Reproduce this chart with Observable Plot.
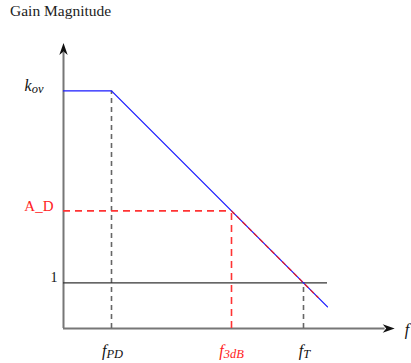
<!DOCTYPE html>
<html>
<head>
<meta charset="utf-8">
<script src="https://cdn.jsdelivr.net/npm/d3@7"></script>
<script src="https://cdn.jsdelivr.net/npm/@observablehq/plot@0.6"></script>
<style>
  html, body { margin: 0; padding: 0; background: #fff; overflow: hidden; }
  #wrap { position: relative; width: 411px; height: 363px; }
  #title { position: absolute; left: 10px; top: 2px; font-family: "Liberation Serif", "Times New Roman", serif; font-size: 15.5px; color: #222; white-space: nowrap; }
</style>
</head>
<body>
<div id="wrap"><div id="title">Gain Magnitude</div></div>
<script>
// Frequency axis (log units) and labels
const freqLabels = ["f|PD", "f|3dB", "f|T"];
const freqValues = [2, 7, 10];
// Gain axis (log units) and labels
const gainLabels = ["k|ov", "A_D", "1"];
const gainValues = [9.9, 4.9, 1.9];
// Bode magnitude asymptote
const respX = [0, 2, 11];
const respY = [9.9, 9.9, 0.9];
// Red slope segment between A_D and unity gain
const slopeX = [7, 10.6];
const slopeY = [4.9, 1.3];
// Axes extents
const xAxisEnd = 13.8;
const yAxisEnd = 11.9;
const axisLabelX = "f";

const [fPD, f3dB, fT] = freqValues;
const [kov, AD, one] = gainValues;

const arrowSymbol = {
  draw(ctx, size) {
    ctx.moveTo(0, 0);
    ctx.lineTo(4.2, 12);
    ctx.lineTo(0, 8.5);
    ctx.lineTo(-4.2, 12);
    ctx.closePath();
  }
};

const resp = respX.map((x, i) => ({x, y: respY[i]}));
const slope = slopeX.map((x, i) => ({x, y: slopeY[i]}));

const chart = Plot.plot({
  width: 411,
  height: 363,
  marginLeft: 63,
  marginRight: 12,
  marginTop: 40,
  marginBottom: 35,
  style: {fontFamily: "'Liberation Serif', 'Times New Roman', serif", background: "transparent", overflow: "hidden"},
  x: {domain: [0, 14], axis: null},
  y: {domain: [0, 12], axis: null},
  marks: [
    // axes
    Plot.ruleY([0], {x1: 0, x2: xAxisEnd - 0.4, stroke: "#777", strokeWidth: 2}),
    Plot.ruleX([0], {y1: 0, y2: yAxisEnd - 0.4, stroke: "#777", strokeWidth: 2}),
    Plot.dot([{x: xAxisEnd, y: 0}], {x: "x", y: "y", symbol: arrowSymbol, r: 5, fill: "#111", stroke: null, rotate: 90}),
    Plot.dot([{x: 0, y: yAxisEnd}], {x: "x", y: "y", symbol: arrowSymbol, r: 5, fill: "#111", stroke: null}),
    // guide lines
    Plot.ruleX([fPD], {y1: 0, y2: kov, stroke: "#666", strokeWidth: 1.6, strokeDasharray: "5,4"}),
    Plot.ruleX([fT], {y1: 0, y2: one, stroke: "#666", strokeWidth: 1.6, strokeDasharray: "5,4"}),
    Plot.ruleY([AD], {x1: 0, x2: f3dB, stroke: "#ff3333", strokeWidth: 1.6, strokeDasharray: "7,5"}),
    Plot.ruleX([f3dB], {y1: 0, y2: AD, stroke: "#ff3333", strokeWidth: 1.6, strokeDasharray: "7,5"}),
    Plot.ruleY([one], {x1: 0, x2: respX[2], stroke: "#333", strokeWidth: 1.4}),
    // response
    Plot.line(resp, {x: "x", y: "y", stroke: "#1a1aff", strokeWidth: 1.3}),
    Plot.line(slope, {x: "x", y: "y", stroke: "#e8202a", strokeWidth: 1.3, strokeDasharray: "4,4"}),
    // y labels
    Plot.text([gainLabels[0]], {x: 0, y: kov, text: d => d, textAnchor: "end", dx: -20, dy: -5, fontSize: 16, fontStyle: "italic", fill: "#111", lineAnchor: "middle"}),
    Plot.text([gainLabels[1]], {x: 0, y: AD, text: d => d, textAnchor: "end", dx: -10, dy: -5, fontSize: 15, fill: "#ff2222", lineAnchor: "middle"}),
    Plot.text([gainLabels[2]], {x: 0, y: one, text: d => d, textAnchor: "end", dx: -6, dy: -5, fontSize: 14, fill: "#111", lineAnchor: "middle"}),
    // x labels
    Plot.text([0, 2].map(i => ({t: freqLabels[i], x: freqValues[i]})), {x: "x", y: 0, text: "t", dx: 1, dy: 22, fontSize: 16, fontStyle: "italic", fill: "#111", lineAnchor: "middle"}),
    Plot.text([{t: freqLabels[1], x: f3dB}], {x: "x", y: 0, text: "t", dy: 22, fontSize: 16, fontStyle: "italic", fill: "#ff2222", lineAnchor: "middle"}),
    Plot.text([axisLabelX], {x: xAxisEnd, y: 0, text: d => d, dx: 10, dy: 1, textAnchor: "start", fontSize: 16, fontStyle: "italic", fill: "#111", lineAnchor: "middle"})
  ]
});

// Convert "main|sub" labels into subscripted text
chart.querySelectorAll("text").forEach(t => {
  const s = t.textContent;
  if (s.includes("|")) {
    const [main, sub] = s.split("|");
    while (t.firstChild) t.removeChild(t.firstChild);
    const ns = "http://www.w3.org/2000/svg";
    const a = document.createElementNS(ns, "tspan");
    a.textContent = main;
    const b = document.createElementNS(ns, "tspan");
    b.textContent = sub;
    b.setAttribute("font-size", "0.78em");
    b.setAttribute("dy", "2");
    t.appendChild(a);
    t.appendChild(b);
  }
});

chart.style.position = "absolute";
chart.style.left = "0";
chart.style.top = "0";
document.getElementById("wrap").appendChild(chart);
</script>
</body>
</html>
